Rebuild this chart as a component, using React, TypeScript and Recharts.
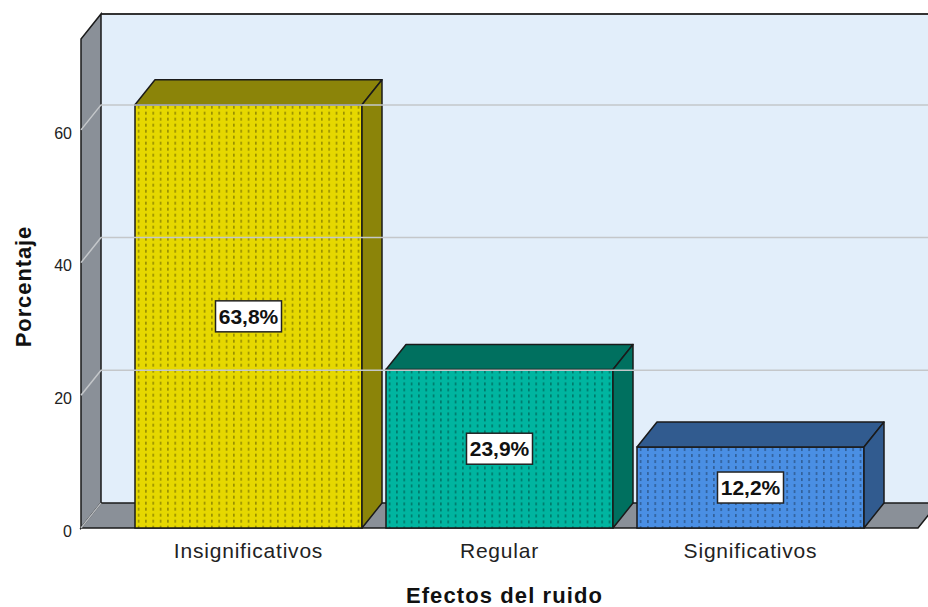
import { BarChart, Bar, XAxis, YAxis, ReferenceArea, ReferenceLine, LabelList } from "recharts";

const categories = ["Insignificativos", "Regular", "Significativos"];
const percentages = [63.8, 23.9, 12.2];
const yTicks = [0, 20, 40, 60];
const yMax = 73.7;

const data = categories.map((name, i) => ({ name, value: percentages[i] }));

// depth of the 3D extrusion (px to the right / up)
const DX = 20;
const DY = 25;
// empty space at both ends of the category axis
const PAD_X = 42;
const FONT = '"Liberation Sans", Arial, sans-serif';

const faces = [
  { front: "#e6d800", shade: "#8b8409" },
  { front: "#00b5a0", shade: "#00705f" },
  { front: "#4a8fe4", shade: "#315b8f" },
];

const fmt = (v: number) => v.toFixed(1).replace(".", ",") + "%";

// back wall, left wall and floor; the area spans the category bands, so widen by the padding
function Walls(props: any) {
  const { y, height } = props;
  const x = props.x - PAD_X;
  const width = props.width + PAD_X * 2;
  const bottom = y + height;
  const right = x + width;
  return (
    <g>
      <rect x={x + DX} y={y - DY} width={width} height={height} fill="#e2eefa" />
      <line x1={x + DX} y1={y - DY} x2={right + DX} y2={y - DY} stroke="#333" strokeWidth={2} />
      <polygon
        points={`${x},${bottom} ${x},${y} ${x + DX},${y - DY} ${x + DX},${bottom - DY}`}
        fill="#8a9098"
        stroke="#1a1a1a"
        strokeWidth={1.5}
      />
      <polygon
        points={`${x},${bottom} ${right},${bottom} ${right + DX},${bottom - DY} ${x + DX},${bottom - DY}`}
        fill="#8a9098"
        stroke="#1a1a1a"
        strokeWidth={1.5}
      />
      <line x1={x} y1={bottom} x2={x + DX} y2={bottom - DY} stroke="#b8bcc0" strokeWidth={1.5} />
    </g>
  );
}

function GridLine(props: any) {
  const { x1, y1, x2 } = props;
  return (
    <polyline
      points={`${x1},${y1} ${x1 + DX},${y1 - DY} ${x2 + DX * 2},${y1 - DY}`}
      fill="none"
      stroke="#c4c7ca"
      strokeWidth={1.5}
    />
  );
}

function Bar3D(props: any) {
  const { x, y, width, height, index } = props;
  const c = faces[index % faces.length];
  const r = x + width;
  const b = y + height;
  return (
    <g>
      <defs>
        <pattern id={`dots-${index}`} patternUnits="userSpaceOnUse" x={x} y={y} width={7.33} height={6}>
          <rect x={3} y={1} width={1.2} height={3} fill="#000" opacity={0.45} />
        </pattern>
      </defs>
      <rect x={x} y={y} width={width} height={height} fill={c.front} />
      <rect x={x} y={y} width={width} height={height} fill={`url(#dots-${index})`} stroke="#1a1a1a" strokeWidth={1.5} />
      <polygon
        points={`${x},${y} ${x + DX},${y - DY} ${r + DX},${y - DY} ${r},${y}`}
        fill={c.shade}
        stroke="#1a1a1a"
        strokeWidth={1.5}
        strokeLinejoin="round"
      />
      <polygon
        points={`${r},${y} ${r + DX},${y - DY} ${r + DX},${b - DY} ${r},${b}`}
        fill={c.shade}
        stroke="#1a1a1a"
        strokeWidth={1.5}
        strokeLinejoin="round"
      />
    </g>
  );
}

function ValueTag(props: any) {
  const { x, y, width, height, value } = props;
  const cx = x + width / 2;
  const cy = y + height / 2;
  return (
    <g>
      <rect x={cx - 33} y={cy - 15.5} width={66} height={31} fill="#fff" stroke="#222" strokeWidth={1.5} />
      <text
        x={cx}
        y={cy}
        dy="0.36em"
        textAnchor="middle"
        fontFamily={FONT}
        fontWeight="bold"
        fontSize={21}
        fill="#111"
      >
        {fmt(value)}
      </text>
    </g>
  );
}

function YTitle(props: any) {
  const { viewBox } = props;
  const cx = viewBox.x + 23;
  const cy = viewBox.y + viewBox.height / 2 + 3;
  return (
    <text
      x={cx}
      y={cy}
      transform={`rotate(-90 ${cx} ${cy})`}
      textAnchor="middle"
      dominantBaseline="central"
      fontFamily={FONT}
      fontWeight="bold"
      fontSize={22}
      letterSpacing={0.9}
      fill="#111"
    >
      Porcentaje
    </text>
  );
}

function XTitle(props: any) {
  const { viewBox } = props;
  return (
    <text
      x={viewBox.x + viewBox.width / 2 + 5}
      y={viewBox.y + 75}
      textAnchor="middle"
      fontFamily={FONT}
      fontWeight="bold"
      fontSize={22}
      letterSpacing={1.1}
      fill="#111"
    >
      Efectos del ruido
    </text>
  );
}

export default function App() {
  return (
    <div style={{ position: "absolute", left: 0, top: 0, width: 928, height: 607, background: "#fff" }}>
      <BarChart width={928} height={607} data={data} margin={{ top: 39, right: 10, bottom: 0, left: 0 }}>
        <XAxis
          dataKey="name"
          height={79}
          padding={{ left: PAD_X, right: PAD_X }}
          axisLine={false}
          tickLine={false}
          tickSize={0}
          tickMargin={15}
          tick={{ fontFamily: FONT, fontSize: 21, fill: "#222", letterSpacing: 0.8 }}
          label={<XTitle />}
        />
        <YAxis
          width={81}
          domain={[0, yMax]}
          ticks={yTicks}
          axisLine={false}
          tickLine={false}
          tickSize={0}
          tickMargin={9}
          tick={{ fontFamily: FONT, fontSize: 16, fill: "#222", dy: 3 }}
          label={<YTitle />}
        />
        <ReferenceArea y1={0} y2={yMax} shape={<Walls />} ifOverflow="visible" />
        {yTicks
          .filter((t) => t > 0)
          .map((t) => (
            <ReferenceLine key={t} y={t} shape={<GridLine />} />
          ))}
        <Bar dataKey="value" barSize={227} shape={<Bar3D />} isAnimationActive={false}>
          <LabelList dataKey="value" content={<ValueTag />} />
        </Bar>
      </BarChart>
    </div>
  );
}
